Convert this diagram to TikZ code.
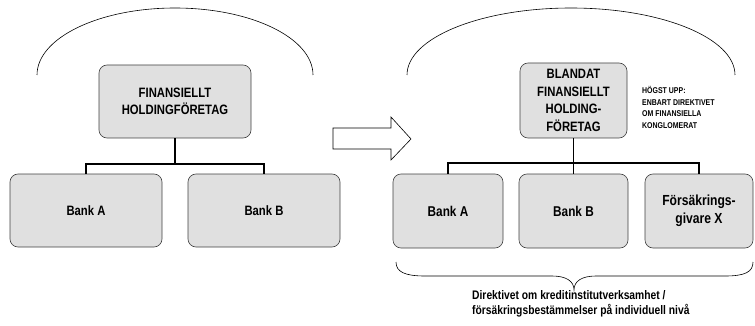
\documentclass[tikz,border=0pt]{standalone}
\usepackage{fontspec}
\usepackage{graphicx}
\setmainfont{Liberation Sans}
\newcommand\cnd[1]{\scalebox{0.83}[1]{#1}}
\begin{document}
\begin{tikzpicture}[x=1pt,y=-1pt,
  box/.style={draw=black!75, line width=0.6pt, fill=black!12, rounded corners=8pt,
    align=center, inner sep=2pt, font=\bfseries\fontsize{13.6}{17.5}\selectfont},
  conn/.style={draw=black, line width=1.8pt},
  thin/.style={draw=black, line width=0.6pt},
  note/.style={align=left, inner sep=0pt, font=\bfseries\fontsize{8.4}{11.7}\selectfont},
  botnote/.style={align=left, inner sep=0pt, font=\bfseries\fontsize{12.4}{14.5}\selectfont}]
\useasboundingbox (0,0) rectangle (755,326);

% Left group
\node[box, minimum width=152pt, minimum height=73pt] (hold1) at (175,101.5) {\cnd{FINANSIELLT}\\\cnd{HOLDINGFÖRETAG}};
\node[box, minimum width=152pt, minimum height=73pt] (bankA1) at (86,210.5) {\cnd{Bank A}};
\node[box, minimum width=152pt, minimum height=73pt] (bankB1) at (264,210.5) {\cnd{Bank B}};
\coordinate (j1) at (175,164);
\draw[conn] (hold1.south) -- (j1);
\draw[conn] (bankA1.north) |- (j1) -| (bankB1.north);
\draw[thin] (37,75) arc[start angle=180, end angle=0, x radius=138pt, y radius=67pt];

% Arrow
\draw[thin] (333,128) -- (391,128) -- (391,117) -- (411,139) -- (391,160) -- (391,149) -- (333,149) -- cycle;

% Right group
\node[box, minimum width=107pt, minimum height=75pt] (hold2) at (573.5,100.5) {\cnd{BLANDAT}\\\cnd{FINANSIELLT}\\\cnd{HOLDING-}\\\cnd{FÖRETAG}};
\node[box, minimum width=110pt, minimum height=74pt, font=\bfseries\fontsize{14.2}{18}\selectfont] (bankA2) at (448,211) {\cnd{Bank A}};
\node[box, minimum width=109pt, minimum height=74pt, font=\bfseries\fontsize{14.2}{18}\selectfont] (bankB2) at (573.5,211) {\cnd{Bank B}};
\node[box, minimum width=108pt, minimum height=74pt, font=\bfseries\fontsize{14.6}{18}\selectfont] (fors) at (699,211) {\cnd{Försäkrings-}\\\cnd{givare X}};
\coordinate (j2) at (573.5,163);
\draw[conn] (hold2.south) -- (j2);
\draw[conn] (bankA2.north) |- (j2) -| (fors.north);
\draw[conn] (bankB2.north) -- (bankB2.north |- j2);
\draw[thin] (407,75) arc[start angle=180, end angle=0, x radius=164pt, y radius=67pt];

\node[note, anchor=west] (hogst) at (642,107.5) {\cnd{HÖGST UPP:}\\\cnd{ENBART DIREKTIVET}\\\cnd{OM FINANSIELLA}\\\cnd{KONGLOMERAT}};

% Brace
\draw[thin] (396,262) .. controls (396,272) and (405,276) .. (425,276) -- (552,276)
  .. controls (566,276) and (574,281) .. (574,290)
  .. controls (574,281) and (582,276) .. (596,276) -- (725,276)
  .. controls (745,276) and (753,272) .. (753,262);

\node[botnote, anchor=west] (dir) at (472,304) {\cnd{Direktivet om kreditinstitutverksamhet /}\\\cnd{försäkringsbestämmelser på individuell nivå}};
\end{tikzpicture}
\end{document}
